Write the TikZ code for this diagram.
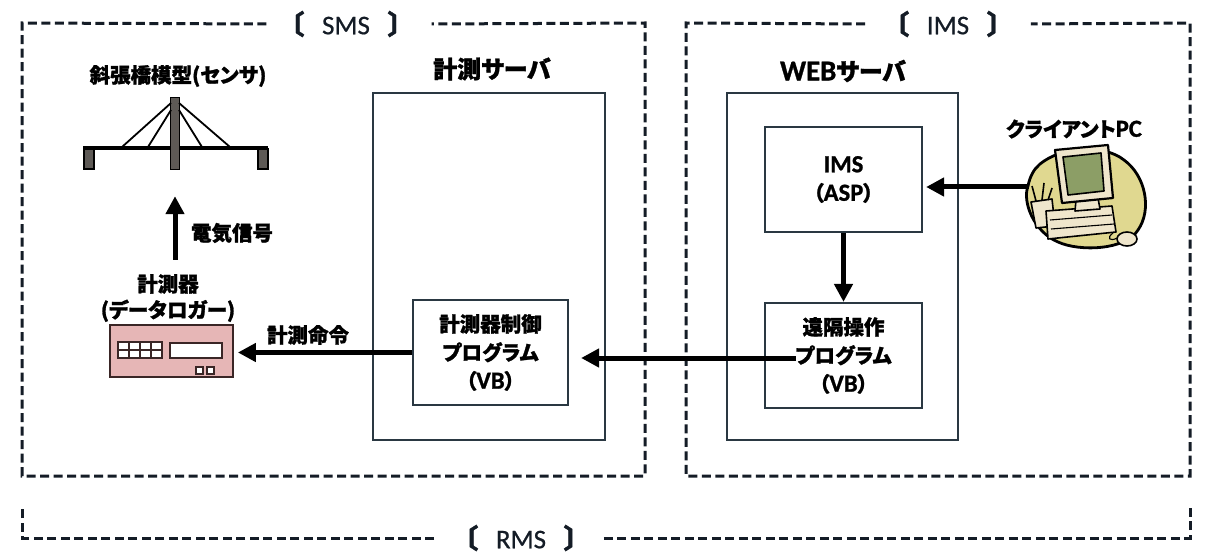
\documentclass[tikz,border=0pt]{standalone}
\usepackage{fontspec}
\setmainfont{Carlito}
\newfontfamily\jp{Noto Sans CJK JP}[RawFeature=+palt, BoldFeatures={FakeBold=1.3}]
\newfontfamily\latf{Carlito}[Scale=1.2, BoldFeatures={FakeBold=1}]
\newfontfamily\tagf{Carlito}[FakeBold=0.6]
\usetikzlibrary{arrows.meta,calc}

\definecolor{ink}{HTML}{141C26}
\definecolor{boxline}{HTML}{2A3842}
\definecolor{lgrfill}{HTML}{E6B6B6}
\definecolor{lgrline}{HTML}{3A2626}
\definecolor{towerfill}{HTML}{5E5A56}
\definecolor{pcblob}{HTML}{E0D890}
\definecolor{pcbody}{HTML}{EFE6CC}
\definecolor{pcscreen}{HTML}{8C9E66}

\newcommand\latw[1]{{\latf\bfseries #1}}
\newcommand\grptag[1]{{\jp\bfseries 〔}\hspace{18pt}{\tagf #1}\hspace{18pt}{\jp\bfseries 〕}}

\begin{document}
\begin{tikzpicture}[x=1pt,y=-1pt,
  grp/.style={draw=ink, line width=3pt, dash pattern=on 9pt off 4.5pt},
  grplab/.style={font=\fontsize{27}{30}\selectfont, text=ink, inner sep=0pt},
  frame/.style={draw=boxline, line width=2.2pt},
  prog/.style={frame, fill=white, inner sep=0pt, align=center,
    font=\jp\bfseries\fontsize{20.5}{28.5}\selectfont},
  head/.style={font=\jp\bfseries\fontsize{24}{28}\selectfont, inner sep=0pt},
  lab/.style={font=\jp\bfseries\fontsize{20.5}{26}\selectfont, inner sep=0pt, align=center},
  arr/.style={draw=black, line width=5pt, -{Triangle[length=18pt,width=18pt]}},
  cable/.style={draw=black, line width=1.8pt},
  pcline/.style={draw=black, line width=1.6pt, line join=round}
]
\useasboundingbox (0,0) rectangle (1207,556);
\fill[white] (0,0) rectangle (1207,556);

% ---- group frames ----
\node[grplab] (smslbl) at (346,24) {\grptag{SMS}};
\draw[grp] ([xshift=-24pt]smslbl.west) -- (22,23) -- (22,476) -- (645,476)
  -- (645,23) -- ([xshift=30pt]smslbl.east);

\node[grplab] (imslbl) at (948,24) {\grptag{IMS}};
\draw[grp] ([xshift=-30pt]imslbl.west) -- (686,23) -- (686,476) -- (1190,476)
  -- (1190,23) -- ([xshift=30pt]imslbl.east);

\node[grplab] (rmslbl) at (521,538) {\grptag{RMS}};
\draw[grp] ([xshift=-30pt]rmslbl.west) -- (22,538) -- (22,508);
\draw[grp] ([xshift=26pt]rmslbl.east) -- (1190,538) -- (1190,508);

% ---- servers ----
\node[head] (srvhead) at (492,69) {計測サーバ};
\draw[frame] (373,93) rectangle (605,440);
\node[head] (webhead) at (843,71) {\latw{WEB}サーバ};
\draw[frame] (727,93) rectangle (958,440);

\node[prog, minimum width=155pt, minimum height=105pt] (meas) at (490.5,352.5)
  {計測器制御\\プログラム\\（\latw{VB}）};
\node[prog, minimum width=157pt, minimum height=105pt] (ims) at (843.5,179.5)
  {\latw{IMS}\\（\latw{ASP}）};
\node[prog, minimum width=157pt, minimum height=105pt] (remote) at (843.5,355.5)
  {遠隔操作\\プログラム\\（\latw{VB}）};

% ---- cable-stayed bridge model ----
\node[lab] (bridgehead) at (178,76) {斜張橋模型(センサ)};
\draw[black, line width=3.4pt] (83,148) -- (268,148);
\node[draw=black, fill=towerfill, line width=1.4pt, minimum width=9pt, minimum height=72pt,
  inner sep=0pt] (tower) at (175,133.5) {};
\draw[cable] (171,103) -- (122,147);
\draw[cable] (171,110) -- (148,147);
\draw[cable] (179,110) -- (202,147);
\draw[cable] (179,103) -- (230,147);
\draw[black, fill=towerfill, line width=1.4pt] (84,149) rectangle (94,169);
\draw[black, fill=towerfill, line width=1.4pt] (258,149) rectangle (268,169);

% ---- data logger ----
\node[lab] (lgrlab) at (168,298) {計測器\\(データロガー)};
\node[draw=lgrline, fill=lgrfill, line width=1.8pt, minimum width=123pt,
  minimum height=52pt, inner sep=0pt] (logger) at (171.5,351) {};
\draw[lgrline, fill=white, line width=1.3pt] (118,342) rectangle (162,358);
\foreach \gx in {129,140,151} \draw[lgrline, line width=1.3pt] (\gx,342) -- (\gx,358);
\draw[lgrline, line width=1.3pt] (118,350) -- (162,350);
\draw[lgrline, fill=white, line width=1.3pt] (170,343) rectangle (222,358);
\draw[lgrline, fill=white, line width=1.3pt] (196,367) rectangle (203,374);
\draw[lgrline, fill=white, line width=1.3pt] (207,367) rectangle (214,374);

% ---- client PC ----
\node[lab] (pchead) at (1074,129) {クライアント\latw{PC}};
\draw[line width=2.8pt, fill=pcblob]
  (1040,164) .. controls (1062,146) and (1104,144) .. (1124,160)
  .. controls (1146,176) and (1152,210) .. (1138,230)
  .. controls (1126,250) and (1080,252) .. (1058,242)
  .. controls (1034,232) and (1022,202) .. (1028,186)
  .. controls (1030,176) and (1034,169) .. (1040,164) -- cycle;
\draw[pcline, fill=pcbody] (1031,202) -- (1052,199) -- (1055,226) -- (1036,228) -- cycle;
\draw[pcline] (1036,201) -- (1032,186);
\draw[pcline] (1042,200) -- (1044,183);
\draw[pcline] (1048,200) -- (1052,188);
\draw[pcline, fill=pcbody] (1046,211) -- (1112,206) -- (1116,232) -- (1048,239) -- cycle;
\draw[pcline, line width=1.1pt] (1050,220) -- (1112,215);
\draw[pcline, line width=1.1pt] (1051,229) -- (1114,224);
\draw[pcline, fill=pcbody] (1076,200) -- (1098,198) -- (1100,209) -- (1075,211) -- cycle;
\draw[pcline, line width=2.2pt, fill=pcbody] (1055,150) -- (1108,145) -- (1113,198) -- (1062,203) -- cycle;
\draw[pcline, fill=pcscreen] (1063,157) -- (1101,153) -- (1104,191) -- (1068,195) -- cycle;
\draw[pcline, fill=pcbody] (1127,239) ellipse (10 and 7);
\draw[pcline, line width=1.1pt] (1117,238) .. controls (1110,242) and (1106,238) .. (1113,233);

% ---- connectors ----
\coordinate (pcport) at (1029,187);
\draw[arr] (pcport) -- ([xshift=3pt]pcport -| ims.east);
\draw[arr] (ims.south) -- (remote.north);
\coordinate (remport) at ($(remote.west)+(32,2.5)$);
\draw[arr] (remport) -- ([xshift=12pt]remport -| meas.east);
\draw[arr] (meas.west) -- ([xshift=4pt]meas.west -| logger.east);
\node[lab] (cmdlab) at (308,335) {計測命令};
\draw[arr] ([yshift=14pt]lgrlab.north -| tower.south) -- ([yshift=-26pt]tower.south);
\node[lab] (siglab) at (232,233) {電気信号};
\end{tikzpicture}
\end{document}
